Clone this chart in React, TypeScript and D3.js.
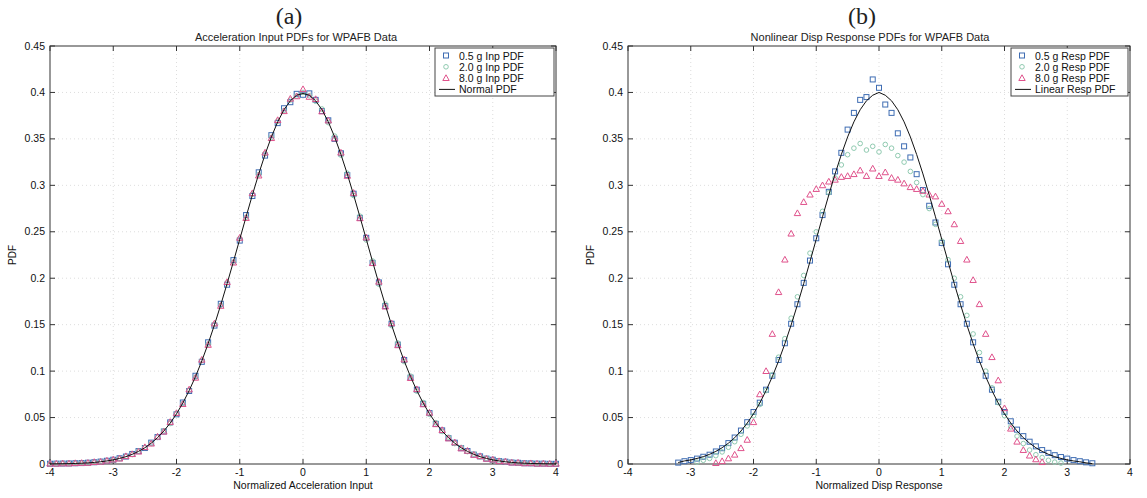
import React from "react";
import * as d3 from "d3";

// ---------- DATA ----------
const xTicks = [-4, -3, -2, -1, 0, 1, 2, 3, 4];
const yTicks = [0, 0.05, 0.1, 0.15, 0.2, 0.25, 0.3, 0.35, 0.4, 0.45];
const yTickLabels = ["0", "0.05", "0.1", "0.15", "0.2", "0.25", "0.3", "0.35", "0.4", "0.45"];

// panel (a) bins
const binsA = [-4, -3.9, -3.8, -3.7, -3.6, -3.5, -3.4, -3.3, -3.2, -3.1, -3, -2.9, -2.8, -2.7, -2.6, -2.5, -2.4, -2.3, -2.2, -2.1, -2, -1.9, -1.8, -1.7, -1.6, -1.5, -1.4, -1.3, -1.2, -1.1, -1, -0.9, -0.8, -0.7, -0.6, -0.5, -0.4, -0.3, -0.2, -0.1, 0, 0.1, 0.2, 0.3, 0.4, 0.5, 0.6, 0.7, 0.8, 0.9, 1, 1.1, 1.2, 1.3, 1.4, 1.5, 1.6, 1.7, 1.8, 1.9, 2, 2.1, 2.2, 2.3, 2.4, 2.5, 2.6, 2.7, 2.8, 2.9, 3, 3.1, 3.2, 3.3, 3.4, 3.5, 3.6, 3.7, 3.8, 3.9, 4];

const normalPdf = [0.0001, 0.0002, 0.0003, 0.0004, 0.0006, 0.0009, 0.0012, 0.0017, 0.0024, 0.0033, 0.0044, 0.006, 0.0079, 0.0104, 0.0136, 0.0175, 0.0224, 0.0283, 0.0355, 0.044, 0.054, 0.0656, 0.079, 0.094, 0.1109, 0.1295, 0.1497, 0.1714, 0.1942, 0.2179, 0.242, 0.2661, 0.2897, 0.3123, 0.3332, 0.3521, 0.3683, 0.3814, 0.391, 0.397, 0.3989, 0.397, 0.391, 0.3814, 0.3683, 0.3521, 0.3332, 0.3123, 0.2897, 0.2661, 0.242, 0.2179, 0.1942, 0.1714, 0.1497, 0.1295, 0.1109, 0.094, 0.079, 0.0656, 0.054, 0.044, 0.0355, 0.0283, 0.0224, 0.0175, 0.0136, 0.0104, 0.0079, 0.006, 0.0044, 0.0033, 0.0024, 0.0017, 0.0012, 0.0009, 0.0006, 0.0004, 0.0003, 0.0002, 0.0001];

const inp05 = [0.0003, 0.0004, 0.0005, 0.0006, 0.0008, 0.001, 0.0014, 0.0019, 0.0026, 0.0035, 0.0046, 0.0062, 0.008, 0.0108, 0.0139, 0.0172, 0.023, 0.029, 0.035, 0.0448, 0.0535, 0.0662, 0.0786, 0.095, 0.11, 0.131, 0.149, 0.1725, 0.193, 0.2195, 0.2405, 0.268, 0.2885, 0.314, 0.332, 0.354, 0.367, 0.383, 0.3895, 0.3985, 0.3975, 0.399, 0.392, 0.38, 0.37, 0.35, 0.3345, 0.311, 0.291, 0.265, 0.2435, 0.2165, 0.1955, 0.17, 0.151, 0.1285, 0.112, 0.093, 0.08, 0.0648, 0.0548, 0.0432, 0.0362, 0.0278, 0.0229, 0.017, 0.014, 0.0101, 0.0082, 0.0058, 0.0046, 0.0031, 0.0025, 0.0016, 0.0013, 0.0008, 0.0007, 0.0004, 0.0004, 0.0002, 0.0002];

const inp20 = [0.0002, 0.0003, 0.0004, 0.0005, 0.0007, 0.0009, 0.0013, 0.0018, 0.0023, 0.0034, 0.0043, 0.0059, 0.0081, 0.0102, 0.0138, 0.0178, 0.0221, 0.0286, 0.0358, 0.0436, 0.0545, 0.065, 0.0795, 0.0935, 0.1115, 0.129, 0.1505, 0.1708, 0.195, 0.2172, 0.2428, 0.2655, 0.2905, 0.3115, 0.334, 0.3515, 0.369, 0.3805, 0.3918, 0.3962, 0.4, 0.3965, 0.3905, 0.3822, 0.3675, 0.353, 0.3325, 0.313, 0.289, 0.2668, 0.2412, 0.2185, 0.1935, 0.1722, 0.149, 0.1302, 0.1102, 0.0946, 0.0784, 0.0662, 0.0535, 0.0445, 0.035, 0.0288, 0.022, 0.0178, 0.0133, 0.0107, 0.0077, 0.0062, 0.0042, 0.0034, 0.0023, 0.0018, 0.0011, 0.001, 0.0005, 0.0005, 0.0003, 0.0002, 0.0001];

const inp80 = [0.0004, 0.0003, 0.0006, 0.0005, 0.0009, 0.0011, 0.0012, 0.0021, 0.0024, 0.0036, 0.0048, 0.0058, 0.0084, 0.0106, 0.0133, 0.0181, 0.0219, 0.0294, 0.0348, 0.0452, 0.0548, 0.0645, 0.0802, 0.0928, 0.1122, 0.1282, 0.1512, 0.1702, 0.1958, 0.2168, 0.2435, 0.2648, 0.2915, 0.3105, 0.3352, 0.3508, 0.3702, 0.3798, 0.3932, 0.3958, 0.4035, 0.3952, 0.3928, 0.3795, 0.3698, 0.3505, 0.3352, 0.3102, 0.2918, 0.2645, 0.2438, 0.2162, 0.1962, 0.1695, 0.1515, 0.1278, 0.1125, 0.0925, 0.0805, 0.0642, 0.0552, 0.0428, 0.0365, 0.0275, 0.0232, 0.0168, 0.0142, 0.0098, 0.0084, 0.0056, 0.0048, 0.003, 0.0027, 0.0015, 0.0014, 0.0007, 0.0008, 0.0003, 0.0004, 0.0002, 0.0003];

// panel (b) bins
const binsB = [-3.3, -3.2, -3.1, -3, -2.9, -2.8, -2.7, -2.6, -2.5, -2.4, -2.3, -2.2, -2.1, -2, -1.9, -1.8, -1.7, -1.6, -1.5, -1.4, -1.3, -1.2, -1.1, -1, -0.9, -0.8, -0.7, -0.6, -0.5, -0.4, -0.3, -0.2, -0.1, 0, 0.1, 0.2, 0.3, 0.4, 0.5, 0.6, 0.7, 0.8, 0.9, 1, 1.1, 1.2, 1.3, 1.4, 1.5, 1.6, 1.7, 1.8, 1.9, 2, 2.1, 2.2, 2.3, 2.4, 2.5, 2.6, 2.7, 2.8, 2.9, 3, 3.1, 3.2, 3.3, 3.4];

const linearResp: (number | null)[] = [null, 0.0016, 0.0033, 0.0044, 0.006, 0.0079, 0.0104, 0.0136, 0.0175, 0.0224, 0.0283, 0.0355, 0.044, 0.054, 0.0656, 0.079, 0.094, 0.1109, 0.1295, 0.1497, 0.1714, 0.1942, 0.2179, 0.242, 0.2661, 0.2897, 0.3123, 0.3332, 0.3521, 0.3683, 0.3814, 0.391, 0.397, 0.4, 0.397, 0.391, 0.3814, 0.3683, 0.3521, 0.3332, 0.3123, 0.2897, 0.2661, 0.242, 0.2179, 0.1942, 0.1714, 0.1497, 0.1295, 0.1109, 0.094, 0.079, 0.0656, 0.054, 0.044, 0.0355, 0.0283, 0.0224, 0.0175, 0.0136, 0.0104, 0.0079, 0.006, 0.0044, 0.0033, 0.0024, 0.0012, 0.0004];

const resp05: (number | null)[] = [null, 0.0015, 0.003, 0.0042, 0.0058, 0.0078, 0.01, 0.0135, 0.017, 0.0225, 0.0285, 0.036, 0.045, 0.056, 0.066, 0.08, 0.095, 0.112, 0.13, 0.151, 0.172, 0.195, 0.219, 0.243, 0.268, 0.293, 0.315, 0.335, 0.36, 0.378, 0.392, 0.395, 0.414, 0.405, 0.387, 0.378, 0.356, 0.342, 0.33, 0.312, 0.295, 0.278, 0.26, 0.238, 0.215, 0.193, 0.172, 0.151, 0.131, 0.112, 0.095, 0.08, 0.067, 0.056, 0.046, 0.037, 0.03, 0.024, 0.019, 0.015, 0.012, 0.0095, 0.0075, 0.0058, 0.0042, 0.003, 0.0018, 0.0008];

const resp20: (number | null)[] = [null, null, null, null, 0.002, 0.004, 0.006, 0.009, 0.013, 0.018, 0.024, 0.032, 0.041, 0.052, 0.064, 0.079, 0.096, 0.115, 0.135, 0.157, 0.18, 0.203, 0.227, 0.25, 0.272, 0.292, 0.308, 0.322, 0.333, 0.34, 0.345, 0.338, 0.342, 0.336, 0.344, 0.34, 0.332, 0.325, 0.315, 0.303, 0.29, 0.275, 0.258, 0.24, 0.22, 0.2, 0.18, 0.16, 0.14, 0.12, 0.1, 0.082, 0.066, 0.052, 0.04, 0.03, 0.022, 0.015, 0.01, 0.007, 0.004, 0.002, 0.001, null, null, null, null, null];

const resp80: (number | null)[] = [null, null, null, null, null, null, null, 0.001, 0.003, 0.006, 0.01, 0.017, 0.026, 0.045, 0.075, 0.1, 0.14, 0.185, 0.22, 0.248, 0.27, 0.282, 0.29, 0.296, 0.3, 0.304, 0.306, 0.309, 0.31, 0.312, 0.316, 0.31, 0.318, 0.31, 0.314, 0.308, 0.306, 0.302, 0.298, 0.296, 0.294, 0.29, 0.288, 0.28, 0.272, 0.258, 0.24, 0.22, 0.198, 0.172, 0.14, 0.115, 0.09, 0.06, 0.038, 0.024, 0.015, 0.009, 0.005, 0.002, null, null, null, null, null, null, null, null];

const legendA = ["0.5 g Inp PDF", "2.0 g Inp PDF", "8.0 g Inp PDF", "Normal PDF"];
const legendB = ["0.5 g Resp PDF", "2.0 g Resp PDF", "8.0 g Resp PDF", "Linear Resp PDF"];

// ---------- STYLE ----------
const BLUE = "#3f6db3";
const GREEN = "#8fcab0";
const PINK = "#e0528c";
const FONT = "Liberation Sans, Arial, sans-serif";

type PanelProps = {
  left: number;
  right: number;
  top: number;
  bottom: number;
  title: string;
  letter: string;
  letterX: number;
  titleX: number;
  xlabel: string;
  bins: number[];
  sq: (number | null)[];
  ci: (number | null)[];
  tri: (number | null)[];
  line: (number | null)[];
  legend: string[];
  legendW: number;
};

function Square({ x, y }: { x: number; y: number }) {
  return <rect x={x - 2.5} y={y - 2.5} width={5} height={5} fill="none" stroke={BLUE} strokeWidth={1} />;
}
function Circ({ x, y }: { x: number; y: number }) {
  return <circle cx={x} cy={y} r={2.3} fill="none" stroke={GREEN} strokeWidth={1} />;
}
function Tri({ x, y }: { x: number; y: number }) {
  return <path d={`M${x},${y - 3.3}L${x + 3.2},${y + 2.4}L${x - 3.2},${y + 2.4}Z`} fill="none" stroke={PINK} strokeWidth={1} />;
}

function Panel(p: PanelProps) {
  const xs = d3.scaleLinear().domain([-4, 4]).range([p.left, p.right]);
  const ys = d3.scaleLinear().domain([0, 0.45]).range([p.bottom, p.top]);
  const pts = (arr: (number | null)[]) =>
    p.bins.map((b, i) => ({ x: b, y: arr[i] })).filter((d) => d.y !== null && d.y !== undefined) as { x: number; y: number }[];
  const lineGen = d3
    .line<{ x: number; y: number }>()
    .x((d) => xs(d.x))
    .y((d) => ys(d.y));
  const cx = (p.left + p.right) / 2;
  const cy = (p.top + p.bottom) / 2;
  const lx = p.right - p.legendW;
  const ly = p.top + 9.5;
  const rowH = 11.3;
  return (
    <g>
      <text x={p.letterX} y={24} textAnchor="middle" fontFamily="Liberation Serif, Times New Roman, serif" fontSize={24} fill="#222">
        {p.letter}
      </text>
      <text x={p.titleX} y={41} textAnchor="middle" fontFamily={FONT} fontSize={11} fill="#222">
        {p.title}
      </text>
      {/* grid */}
      {xTicks.slice(1, -1).map((t) => (
        <line key={"gx" + t} x1={xs(t)} x2={xs(t)} y1={p.top} y2={p.bottom} stroke="#d4d4d4" strokeWidth={0.8} strokeDasharray="1,3" />
      ))}
      {yTicks.slice(1, -1).map((t) => (
        <line key={"gy" + t} x1={p.left} x2={p.right} y1={ys(t)} y2={ys(t)} stroke="#d4d4d4" strokeWidth={0.8} strokeDasharray="1,3" />
      ))}
      {/* frame */}
      <rect x={p.left} y={p.top} width={p.right - p.left} height={p.bottom - p.top} fill="none" stroke="#333" strokeWidth={1} />
      {xTicks.map((t) => (
        <g key={"xt" + t}>
          <line x1={xs(t)} x2={xs(t)} y1={p.bottom} y2={p.bottom - 5} stroke="#333" />
          <line x1={xs(t)} x2={xs(t)} y1={p.top} y2={p.top + 5} stroke="#333" />
          <text x={xs(t)} y={p.bottom + 12} textAnchor="middle" fontFamily={FONT} fontSize={10.5} fill="#111">
            {t}
          </text>
        </g>
      ))}
      {yTicks.map((t, i) => (
        <g key={"yt" + t}>
          <line x1={p.left} x2={p.left + 5} y1={ys(t)} y2={ys(t)} stroke="#333" />
          <line x1={p.right} x2={p.right - 5} y1={ys(t)} y2={ys(t)} stroke="#333" />
          <text x={p.left - 5} y={ys(t) + 3.5} textAnchor="end" fontFamily={FONT} fontSize={10.5} fill="#111">
            {yTickLabels[i]}
          </text>
        </g>
      ))}
      <text x={cx} y={p.bottom + 25} textAnchor="middle" fontFamily={FONT} fontSize={10.5} fill="#111">
        {p.xlabel}
      </text>
      <text transform={`translate(${p.left - 34},${cy}) rotate(-90)`} textAnchor="middle" fontFamily={FONT} fontSize={10} fill="#111">
        PDF
      </text>
      {/* data */}
      {pts(p.sq).map((d, i) => (
        <Square key={"s" + i} x={xs(d.x)} y={ys(d.y)} />
      ))}
      {pts(p.ci).map((d, i) => (
        <Circ key={"c" + i} x={xs(d.x)} y={ys(d.y)} />
      ))}
      {pts(p.tri).map((d, i) => (
        <Tri key={"t" + i} x={xs(d.x)} y={ys(d.y)} />
      ))}
      <path d={lineGen(pts(p.line)) || ""} fill="none" stroke="#111" strokeWidth={1} />
      {/* legend */}
      <rect x={lx} y={p.top + 2} width={p.legendW - 2} height={48} fill="#fff" stroke="#444" strokeWidth={1} />
      {p.legend.map((s, i) => (
        <text key={"lg" + i} x={lx + 24} y={ly + i * rowH + 4} fontFamily={FONT} fontSize={10.5} fill="#111">
          {s}
        </text>
      ))}
      <Square x={lx + 11} y={ly} />
      <Circ x={lx + 11} y={ly + rowH} />
      <Tri x={lx + 11} y={ly + 2 * rowH} />
      <line x1={lx + 4} x2={lx + 20} y1={ly + 3 * rowH} y2={ly + 3 * rowH} stroke="#111" />
    </g>
  );
}

export default function App() {
  return (
    <svg width={1147} height={498} style={{ position: "absolute", left: 0, top: 0, background: "#fff" }}>
      <rect width={1147} height={498} fill="#fff" />
      <Panel left={50} right={556} top={46} bottom={464} title="Acceleration Input PDFs for WPAFB Data" letter="(a)" letterX={289} titleX={296}
        xlabel="Normalized Acceleration Input" bins={binsA} sq={inp05} ci={inp20} tri={inp80} line={normalPdf} legend={legendA} legendW={121} />
      <Panel left={628} right={1130} top={46} bottom={464} title="Nonlinear Disp Response PDFs for WPAFB Data" letter="(b)" letterX={862} titleX={870}
        xlabel="Normalized Disp Response" bins={binsB} sq={resp05} ci={resp20} tri={resp80} line={linearResp} legend={legendB} legendW={119} />
    </svg>
  );
}
